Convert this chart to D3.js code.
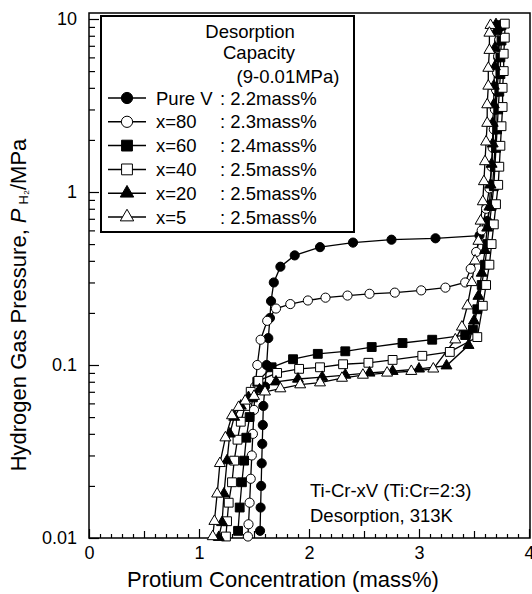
<html>
<head>
<script src="https://d3js.org/d3.v7.min.js"></script>
<style>
  body { margin: 0; background: #fff; }
  text { font-family: "Liberation Sans", Arial, sans-serif; fill: #000; }
</style>
</head>
<body>
<svg id="chart" width="532" height="594"></svg>
<script>
// protium concentration (mass%), pressure (MPa) -- desorption order, high to low
const pureV = [[3.74,9.0],[3.73,7.5],[3.72,6.0],[3.72,4.8],[3.71,3.8],[3.70,3.0],[3.70,2.3],[3.69,1.8],[3.68,1.4],[3.67,1.1],[3.65,0.85],[3.62,0.68],[3.55,0.56],
  [3.15,0.54],[2.75,0.53],[2.40,0.51],[2.10,0.48],[1.87,0.43],[1.74,0.37],[1.68,0.30],[1.655,0.234],[1.645,0.187],[1.63,0.143],
  [1.615,0.10],[1.60,0.075],[1.585,0.058],[1.58,0.045],[1.575,0.035],[1.57,0.027],[1.565,0.02],[1.56,0.015],[1.555,0.011]];
const x80 = [[3.74,9.2],[3.73,7.6],[3.72,6.1],[3.71,4.9],[3.70,3.9],[3.69,3.0],[3.68,2.3],[3.67,1.8],[3.66,1.4],[3.64,1.05],[3.61,0.8],[3.57,0.6],[3.52,0.45],[3.47,0.36],
  [3.42,0.30],[3.24,0.28],[3.02,0.27],[2.78,0.262],[2.55,0.258],[2.35,0.252],[2.15,0.245],[1.99,0.236],[1.83,0.225],[1.70,0.212],[1.62,0.18],[1.56,0.14],
  [1.53,0.10],[1.51,0.075],[1.50,0.055],[1.49,0.04],[1.48,0.03],[1.47,0.022],[1.46,0.016],[1.45,0.012],[1.445,0.0102]];
const x60 = [[3.75,9.2],[3.75,7.5],[3.74,6.0],[3.74,4.8],[3.73,3.8],[3.72,3.0],[3.71,2.3],[3.70,1.8],[3.69,1.4],[3.68,1.08],[3.66,0.83],[3.64,0.65],[3.62,0.5],[3.60,0.38],[3.57,0.29],[3.53,0.21],[3.49,0.16],
  [3.42,0.149],[3.12,0.14],[2.85,0.134],[2.57,0.127],[2.33,0.12],[2.08,0.116],[1.855,0.108],[1.66,0.097],[1.53,0.08],
  [1.49,0.065],[1.46,0.05],[1.43,0.038],[1.41,0.028],[1.39,0.021],[1.37,0.015],[1.355,0.011]];
const x40 = [[3.78,9.4],[3.78,7.8],[3.77,6.3],[3.77,5.0],[3.76,4.0],[3.76,3.1],[3.75,2.4],[3.74,1.85],[3.73,1.4],[3.72,1.1],[3.70,0.85],[3.68,0.65],[3.66,0.5],[3.64,0.38],[3.61,0.29],[3.58,0.22],
  [3.53,0.145],[3.28,0.119],[3.03,0.113],[2.76,0.107],[2.54,0.103],[2.31,0.101],[2.10,0.097],[1.91,0.095],[1.71,0.09],[1.54,0.081],
  [1.47,0.07],[1.42,0.058],[1.38,0.047],[1.35,0.037],[1.32,0.028],[1.30,0.021],[1.27,0.016],[1.255,0.0125],[1.245,0.0102]];
const x20 = [[3.70,9.3],[3.70,8.5],[3.69,6.8],[3.69,5.3],[3.68,4.1],[3.68,3.2],[3.67,2.5],[3.67,1.9],[3.66,1.45],[3.65,1.1],[3.64,0.82],[3.62,0.62],[3.60,0.46],[3.57,0.34],[3.54,0.25],[3.50,0.18],[3.45,0.13],
  [3.25,0.099],[3.00,0.095],[2.76,0.092],[2.55,0.09],[2.33,0.0875],[2.12,0.085],[1.90,0.083],[1.70,0.08],
  [1.55,0.072],[1.45,0.065],[1.38,0.058],[1.32,0.05],[1.28,0.04],[1.255,0.028],[1.227,0.018],[1.21,0.0123],[1.18,0.0101]];
const x5 = [[3.65,9.2],[3.64,8.3],[3.64,6.6],[3.63,5.2],[3.63,4.1],[3.62,3.2],[3.62,2.5],[3.61,1.95],[3.60,1.5],[3.59,1.15],[3.58,0.88],[3.56,0.68],[3.54,0.52],[3.51,0.4],[3.48,0.3],[3.44,0.22],[3.39,0.166],[3.33,0.14],
  [3.13,0.095],[2.93,0.092],[2.71,0.09],[2.49,0.0875],[2.30,0.084],[2.10,0.079],[1.92,0.077],[1.74,0.073],
  [1.60,0.07],[1.50,0.066],[1.42,0.062],[1.36,0.057],[1.30,0.051],[1.24,0.038],[1.19,0.027],[1.165,0.018],[1.14,0.0125],[1.125,0.0102]];

const seriesData = [pureV, x80, x60, x40, x20, x5];
const seriesNames = ['Pure V', 'x=80', 'x=60', 'x=40', 'x=20', 'x=5'];
const capacities = ['2.2mass%', '2.3mass%', '2.4mass%', '2.5mass%', '2.5mass%', '2.5mass%'];
const shapes = ['circle', 'circle', 'square', 'square', 'triangle', 'triangle'];
const filled = [true, false, true, false, true, false];

const xTicks = [0, 1, 2, 3, 4];
const yTicks = [0.01, 0.1, 1, 10];

const svg = d3.select('svg#chart');

const xScale = d3.scaleLinear().domain([0, 4]).range([89, 529]);
const yScale = d3.scaleLog().domain([0.01, 10]).range([538, 19]);

const symbolType = {circle: d3.symbolCircle, square: d3.symbolSquare, triangle: d3.symbolTriangle};
const symbolSize = {circle: 66, square: 78, triangle: 52};

// frame
svg.append('rect')
    .attr('x', 89).attr('y', 13)
    .attr('width', 441).attr('height', 525)
    .attr('fill', 'none').attr('stroke', '#000').attr('stroke-width', 1.5);

// y axis, ticks pointing inward
const yMinor = [];
[0.01, 0.1, 1].forEach(d => { for (let k = 2; k <= 9; k++) yMinor.push(d * k); });
svg.append('g')
    .attr('transform', 'translate(89,0)')
    .call(d3.axisLeft(yScale).tickValues(yMinor).tickSizeInner(-6).tickSizeOuter(0).tickFormat(''))
    .call(g => g.select('.domain').remove());
svg.append('g')
    .attr('transform', 'translate(89,0)')
    .call(d3.axisLeft(yScale).tickValues(yTicks).tickSizeInner(-10).tickSizeOuter(0).tickPadding(12).tickFormat(d => d))
    .call(g => g.select('.domain').remove())
    .call(g => g.selectAll('text').attr('font-size', 18).attr('font-family', '"Liberation Sans", Arial, sans-serif'));

// x axis
const xMinor = d3.range(0.1, 4, 0.1).filter(d => Math.abs(d - Math.round(d)) > 0.01);
svg.append('g')
    .attr('transform', 'translate(0,538)')
    .call(d3.axisBottom(xScale).tickValues(xMinor).tickSizeInner(-4).tickSizeOuter(0).tickFormat(''))
    .call(g => g.select('.domain').remove())
    .call(g => g.selectAll('line').attr('y2', d => Math.abs(d % 1 - 0.5) < 0.01 ? -7 : -4));
svg.append('g')
    .attr('transform', 'translate(0,538)')
    .call(d3.axisBottom(xScale).tickValues(xTicks).tickSizeInner(-9).tickSizeOuter(0).tickPadding(8).tickFormat(d3.format('d')))
    .call(g => g.select('.domain').remove())
    .call(g => g.selectAll('text').attr('font-size', 18).attr('font-family', '"Liberation Sans", Arial, sans-serif'));

svg.selectAll('.tick line').attr('stroke', '#000').attr('stroke-width', 1.2);

// axis titles
svg.append('text')
    .attr('x', 283).attr('y', 587)
    .attr('text-anchor', 'middle')
    .attr('font-size', 22)
    .text('Protium Concentration (mass%)');

const yTitle = svg.append('text')
    .attr('transform', 'translate(26,305) rotate(-90)')
    .attr('text-anchor', 'middle')
    .attr('font-size', 22);
yTitle.append('tspan').text('Hydrogen Gas Pressure, ');
yTitle.append('tspan').attr('font-style', 'italic').text('P');
yTitle.append('tspan').attr('font-size', 13).attr('dx', 4).attr('dy', 2).text('H\u2082');
yTitle.append('tspan').attr('dy', -2).text('/MPa');

// curves
const line = d3.line().x(d => xScale(d[0])).y(d => yScale(d[1]));

seriesData.forEach((data, i) => {
    svg.append('path')
        .attr('d', line(data))
        .attr('fill', 'none')
        .attr('stroke', '#000')
        .attr('stroke-width', 1.3);
});

seriesData.forEach((data, i) => {
    const sym = d3.symbol().type(symbolType[shapes[i]]).size(symbolSize[shapes[i]]);
    svg.append('g').selectAll('path')
        .data(data)
        .join('path')
        .attr('d', sym)
        .attr('transform', d => `translate(${xScale(d[0])},${yScale(d[1])})`)
        .attr('fill', filled[i] ? '#000' : '#fff')
        .attr('stroke', '#000')
        .attr('stroke-width', 1);
});

// legend box
svg.append('rect')
    .attr('x', 101).attr('y', 16)
    .attr('width', 253).attr('height', 216)
    .attr('fill', '#fff').attr('stroke', '#000').attr('stroke-width', 2);

const header = [['Desorption', 250, 38], ['Capacity', 259, 59], ['(9-0.01MPa)', 288, 83]];
header.forEach(h => {
    svg.append('text').attr('x', h[1]).attr('y', h[2])
        .attr('text-anchor', 'middle').attr('font-size', 18.5).text(h[0]);
});

seriesNames.forEach((name, i) => {
    const y = 98 + i * 23.8;
    svg.append('line')
        .attr('x1', 108).attr('x2', 146).attr('y1', y).attr('y2', y)
        .attr('stroke', '#000').attr('stroke-width', 1.5);
    svg.append('path')
        .attr('d', d3.symbol().type(symbolType[shapes[i]]).size(symbolSize[shapes[i]] * 1.5)())
        .attr('transform', `translate(127,${y})`)
        .attr('fill', filled[i] ? '#000' : '#fff')
        .attr('stroke', '#000').attr('stroke-width', 1);
    svg.append('text').attr('x', 156).attr('y', y + 6.5)
        .attr('font-size', 18.5).text(name);
    svg.append('text').attr('x', 220).attr('y', y + 6.5)
        .attr('font-size', 18.5).text(': ' + capacities[i]);
});

// annotation
svg.append('text').attr('x', 310).attr('y', 497).attr('font-size', 18.5).text('Ti-Cr-xV (Ti:Cr=2:3)');
svg.append('text').attr('x', 310).attr('y', 522).attr('font-size', 18.5).text('Desorption, 313K');
</script>
</body>
</html>
